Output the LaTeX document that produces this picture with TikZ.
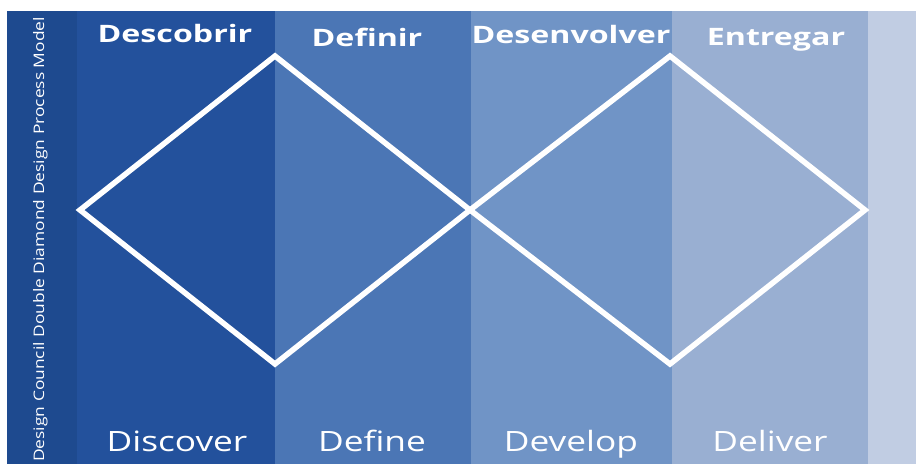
\documentclass[tikz,border=0pt]{standalone}
\usepackage{fontspec}
\setmainfont{Open Sans}
\usetikzlibrary{positioning}
\definecolor{stripblue}{HTML}{1E4A8F}
\definecolor{discblue}{HTML}{23519C}
\definecolor{defiblue}{HTML}{4B76B5}
\definecolor{devblue}{HTML}{7094C6}
\definecolor{delblue}{HTML}{99AFD2}
\definecolor{tailblue}{HTML}{C1CDE3}

\begin{document}
\begin{tikzpicture}[x=1pt,y=-1pt,
  head/.style={text=white,anchor=base,inner sep=0pt,xscale=1.34,transform shape,
    font=\bfseries\fontsize{24}{24}\selectfont},
  foot/.style={text=white,anchor=base,inner sep=0pt,xscale=1.26,transform shape,
    font=\fontsize{28}{28}\selectfont},
  side/.style={text=white,anchor=base west,inner sep=0pt,rotate=90,xscale=1.2,transform shape,
    font=\fontsize{14.5}{14.5}\selectfont},
  diamond line/.style={draw=white,line width=5.5pt,miter limit=10}]
  \useasboundingbox (0,0) rectangle (916,464);
  \fill[white] (0,0) rectangle (916,464);
  % bands
  \fill[stripblue] (7,11) rectangle (77,464);
  \fill[discblue]  (77,11) rectangle (275,464);
  \fill[defiblue]  (275,11) rectangle (471,464);
  \fill[devblue]   (471,11) rectangle (672,464);
  \fill[delblue]   (672,11) rectangle (868,464);
  \fill[tailblue]  (868,11) rectangle (916,464);
  % the two diamonds
  \coordinate (L)  at (80,210);
  \coordinate (T1) at (275,56);
  \coordinate (M)  at (470,210);
  \coordinate (B1) at (275,364);
  \coordinate (T2) at (670,56);
  \coordinate (R)  at (865,210);
  \coordinate (B2) at (670,364);
  \draw[diamond line] (L) -- (T1) -- (M) -- (B1) -- cycle;
  \draw[diamond line] (M) -- (T2) -- (R) -- (B2) -- cycle;
  % labels
  \node[head] (descobrir)   at (175,42) {Descobrir};
  \node[head] (definir)     at (367,46) {Definir};
  \node[head] (desenvolver) at (571,43) {Desenvolver};
  \node[head] (entregar)    at (776,45) {Entregar};
  \node[foot] (discover) at (177,451) {Discover};
  \node[foot] (define)   at (372,451) {Define};
  \node[foot] (develop)  at (571,451) {Develop};
  \node[foot] (deliver)  at (770,451) {Deliver};
  \node[side] (model) at (44,462) {Design Council Double Diamond Design Process Model};
\end{tikzpicture}
\end{document}
